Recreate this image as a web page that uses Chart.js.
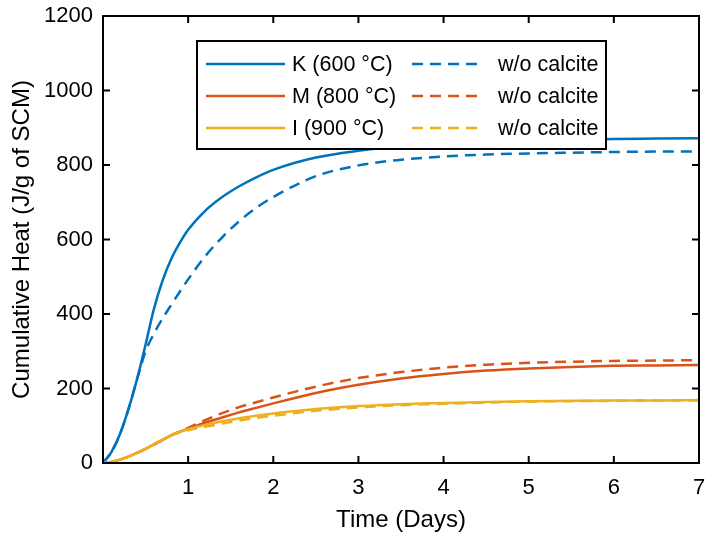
<!DOCTYPE html>
<html>
<head>
<meta charset="utf-8">
<script src="https://cdn.jsdelivr.net/npm/chart.js@4"></script>
<style>
  html, body { margin: 0; padding: 0; background: #fff; }
  #wrap { width: 706px; height: 540px; }
</style>
</head>
<body>
<div id="wrap"><canvas id="heatChart" width="706" height="540"></canvas></div>
<script>
// time (days)
const days = [0, 0.1, 0.2, 0.3, 0.4, 0.5, 0.6, 0.7, 0.8, 0.9, 1.0, 1.2, 1.4, 1.6, 1.8, 2.0, 2.5, 3.0, 3.5, 4.0, 4.5, 5.0, 5.5, 6.0, 6.5, 7.0];

// cumulative heat (J/g of SCM)
const kSolid = [0, 30, 78, 145, 225, 318, 415, 490, 547, 590, 626, 677, 714, 743, 767, 787, 820, 838, 850, 858, 863, 866, 868, 870, 871, 872];
const kDash  = [0, 30, 78, 145, 225, 300, 348, 388, 424, 459, 493, 555, 606, 649, 685, 714, 770, 799, 814, 823, 828, 831, 833, 835, 836, 836];
const mSolid = [0, 3, 9, 17, 27, 38, 50, 62, 74, 84, 92, 108, 122, 136, 148, 160, 188, 210, 227, 239, 248, 254, 258, 261, 262, 263];
const mDash  = [0, 3, 9, 17, 27, 38, 50, 62, 74, 84, 94, 115, 134, 150, 163, 176, 205, 228, 244, 256, 264, 269, 272, 274, 275, 276];
const iSolid = [0, 3, 9, 17, 27, 38, 51, 63, 75, 84, 91, 102, 112, 120, 127, 133, 145, 153, 158, 161, 164, 166, 167, 168, 168, 169];
const iDash  = [0, 3, 9, 17, 27, 38, 51, 63, 74, 82, 88, 97, 106, 114, 121, 127, 140, 149, 155, 159, 162, 165, 166, 167, 168, 168];

const seriesLabels = ["K (600 \u00b0C)", "w/o calcite", "M (800 \u00b0C)", "w/o calcite", "I (900 \u00b0C)", "w/o calcite"];

const blue = "#0072BD";
const red = "#D95319";
const yellow = "#EDB120";
const fontFamily = 'Arial, "Liberation Sans", Helvetica, sans-serif';
const dash = [11, 7];

Chart.defaults.font.family = fontFamily;
Chart.defaults.font.size = 22;
Chart.defaults.color = "#000";

function pts(values) {
  return days.map((d, i) => ({ x: d, y: values[i] }));
}

function line(label, values, color, dashed, order) {
  return {
    label: label,
    data: pts(values),
    borderColor: color,
    backgroundColor: color,
    borderWidth: 2.5,
    borderDash: dashed ? dash : [],
    pointRadius: 0,
    fill: false,
    cubicInterpolationMode: "monotone",
    order: order
  };
}

// keep the plot box where the reference has it
function noPad(s) {
  s.paddingLeft = 0;
  s.paddingRight = 0;
  s.paddingTop = 0;
  s.paddingBottom = 0;
}

// box with inward ticks on all four sides
const boxPlugin = {
  id: "box",
  afterDatasetsDraw(chart) {
    const { ctx, chartArea: a, scales } = chart;
    const tl = 7;
    ctx.save();
    ctx.strokeStyle = "#000";
    ctx.lineWidth = 2;
    ctx.strokeRect(a.left, a.top, a.right - a.left, a.bottom - a.top);
    ctx.beginPath();
    scales.x.ticks.forEach(t => {
      const px = scales.x.getPixelForValue(t.value);
      ctx.moveTo(px, a.bottom); ctx.lineTo(px, a.bottom - tl);
      ctx.moveTo(px, a.top); ctx.lineTo(px, a.top + tl);
    });
    scales.y.ticks.forEach(t => {
      const py = scales.y.getPixelForValue(t.value);
      ctx.moveTo(a.left, py); ctx.lineTo(a.left + tl, py);
      ctx.moveTo(a.right, py); ctx.lineTo(a.right - tl, py);
    });
    ctx.stroke();
    ctx.restore();
  }
};

// two-column legend inside the plot
const legendPlugin = {
  id: "boxLegend",
  afterDraw(chart) {
    const ctx = chart.ctx;
    const sets = chart.data.datasets;
    const x0 = 197, y0 = 41, w = 409, h = 108;
    const rowY = [64, 96, 128];
    const cols = [{ l1: 206, l2: 285, tx: 292 }, { l1: 412, l2: 483, tx: 498 }];
    ctx.save();
    ctx.fillStyle = "#fff";
    ctx.fillRect(x0, y0, w, h);
    ctx.strokeStyle = "#000";
    ctx.lineWidth = 2;
    ctx.strokeRect(x0, y0, w, h);
    ctx.font = "21.5px " + fontFamily;
    ctx.textBaseline = "middle";
    sets.forEach((ds, i) => {
      const c = cols[i % 2];
      const y = rowY[Math.floor(i / 2)];
      ctx.strokeStyle = ds.borderColor;
      ctx.lineWidth = 2.5;
      ctx.setLineDash(ds.borderDash);
      ctx.beginPath();
      ctx.moveTo(c.l1, y);
      ctx.lineTo(c.l2, y);
      ctx.stroke();
      ctx.setLineDash([]);
      ctx.fillStyle = "#000";
      ctx.fillText(ds.label, c.tx, y + 1);
    });
    ctx.restore();
  }
};

new Chart(document.getElementById("heatChart"), {
  type: "line",
  data: {
    datasets: [
      line(seriesLabels[0], kSolid, blue, false, 6),
      line(seriesLabels[1], kDash, blue, true, 5),
      line(seriesLabels[2], mSolid, red, false, 4),
      line(seriesLabels[3], mDash, red, true, 3),
      line(seriesLabels[4], iSolid, yellow, false, 2),
      line(seriesLabels[5], iDash, yellow, true, 1)
    ]
  },
  options: {
    responsive: false,
    animation: false,
    devicePixelRatio: 1,
    layout: { padding: { top: 16, right: 7, left: 0, bottom: 0 } },
    plugins: {
      legend: { display: false },
      tooltip: { enabled: false }
    },
    scales: {
      x: {
        type: "linear",
        min: 0,
        max: 7,
        grid: { display: false, drawTicks: false },
        border: { display: false },
        ticks: {
          stepSize: 1,
          padding: 12,
          color: "#000",
          callback: v => (v === 0 ? "" : String(v))
        },
        title: {
          display: true,
          text: "Time (Days)",
          color: "#000",
          font: { size: 24 },
          padding: { top: 0, bottom: 5 }
        },
        afterFit: s => { s.height = 77; noPad(s); }
      },
      y: {
        min: 0,
        max: 1200,
        grid: { display: false, drawTicks: false },
        border: { display: false },
        ticks: { stepSize: 200, padding: 10, color: "#000", callback: v => String(v) },
        title: {
          display: true,
          text: "Cumulative Heat (J/g of SCM)",
          color: "#000",
          font: { size: 24 },
          padding: { top: 8, bottom: 0 }
        },
        afterFit: s => { s.width = 103; noPad(s); }
      }
    }
  },
  plugins: [boxPlugin, legendPlugin]
});
</script>
</body>
</html>
